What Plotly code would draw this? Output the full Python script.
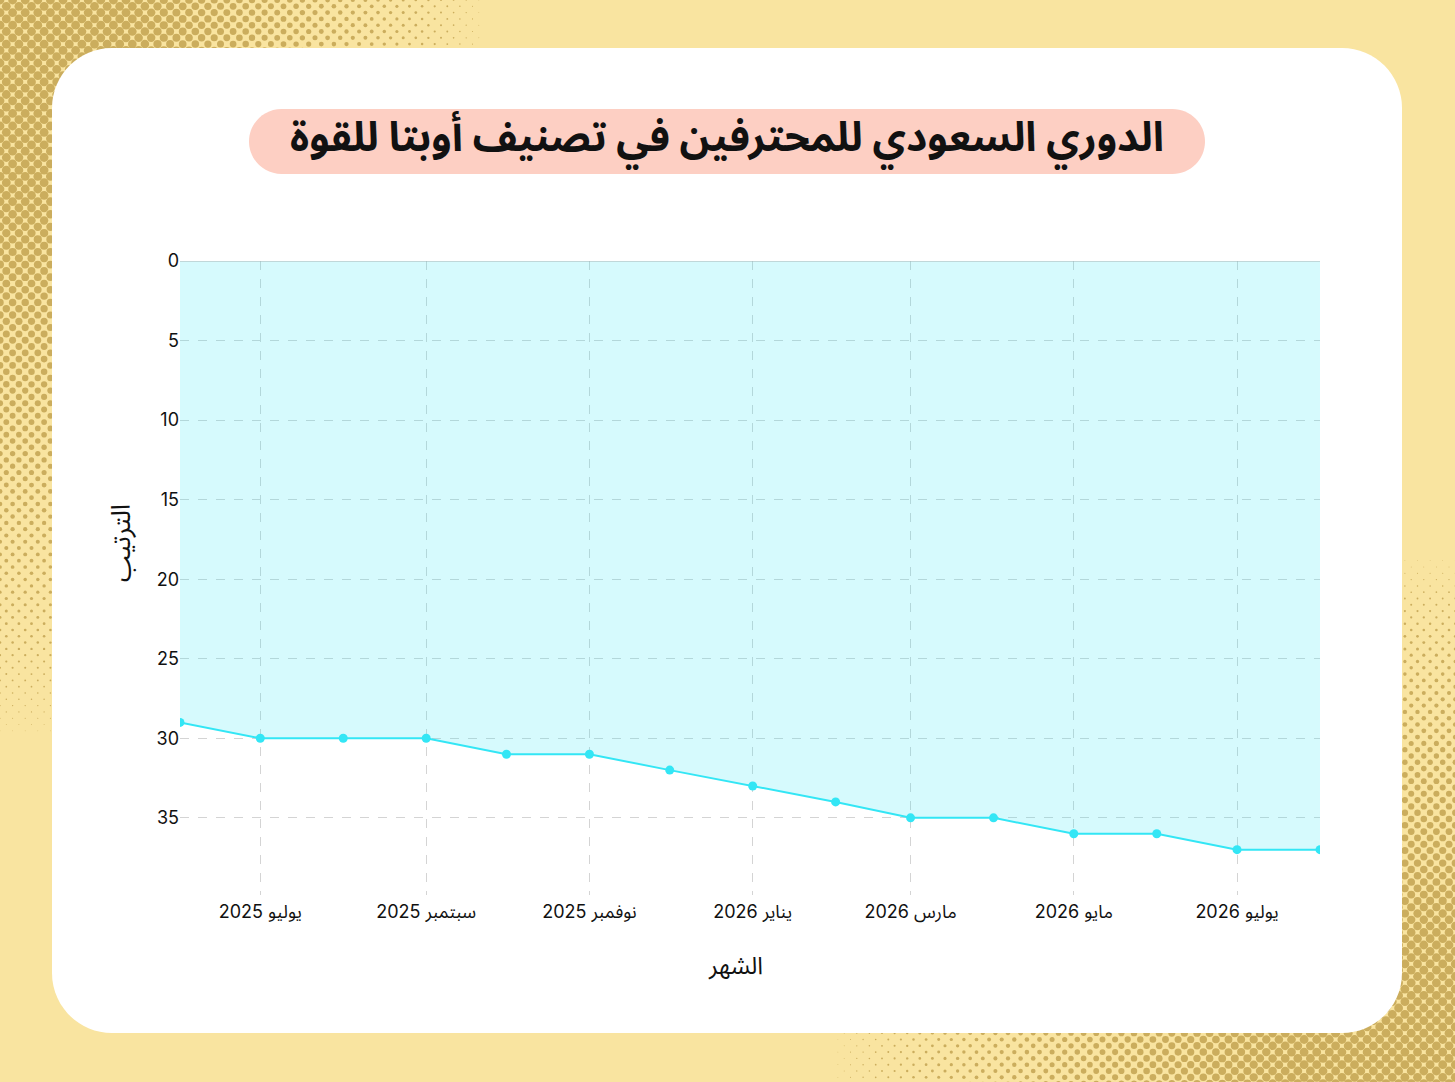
import base64
import numpy as np
import plotly.graph_objects as go

# --- data ---
months = [
    "2025-06-01", "2025-07-01", "2025-08-01", "2025-09-01", "2025-10-01",
    "2025-11-01", "2025-12-01", "2026-01-01", "2026-02-01", "2026-03-01",
    "2026-04-01", "2026-05-01", "2026-06-01", "2026-07-01", "2026-08-01",
]
ranks = [29, 30, 30, 30, 31, 31, 32, 33, 34, 35, 35, 36, 36, 37, 37]

tick_dates = ["2025-07-01", "2025-09-01", "2025-11-01", "2026-01-01",
              "2026-03-01", "2026-05-01", "2026-07-01"]
tick_labels = ["يوليو 2025", "سبتمبر 2025", "نوفمبر 2025", "يناير 2026",
               "مارس 2026", "مايو 2026", "يوليو 2026"]
rank_ticks = [0, 5, 10, 15, 20, 25, 30, 35]

title_text = "الدوري السعودي للمحترفين في تصنيف أوبتا للقوة"
x_title = "الشهر"
y_title = "الترتيب"

# --- page geometry (pixels) ---
W, H = 1455, 1082
L, R, T, B = 180, 135, 261, 187
PW, PH = W - L - R, H - T - B

FONT = "Inter, Noto Sans Arabic, Noto Sans, DejaVu Sans, sans-serif"


def px(x):
    return (x - L) / PW


def py(y):
    return (H - B - y) / PH


def rounded_rect(x0, y0, x1, y1, r):
    k = 0.5523 * r
    p = lambda x, y: f"{px(x):.5f},{py(y):.5f}"
    return (
        f"M{p(x0 + r, y0)} L{p(x1 - r, y0)} "
        f"C{p(x1 - r + k, y0)} {p(x1, y0 + r - k)} {p(x1, y0 + r)} "
        f"L{p(x1, y1 - r)} "
        f"C{p(x1, y1 - r + k)} {p(x1 - r + k, y1)} {p(x1 - r, y1)} "
        f"L{p(x0 + r, y1)} "
        f"C{p(x0 + r - k, y1)} {p(x0, y1 - r + k)} {p(x0, y1 - r)} "
        f"L{p(x0, y0 + r)} "
        f"C{p(x0, y0 + r - k)} {p(x0 + r - k, y0)} {p(x0 + r, y0)} Z"
    )


# halftone corners for the backdrop
def halftone_svg():
    parts = [f'<svg xmlns="http://www.w3.org/2000/svg" width="{W}" height="{H}" '
             f'viewBox="0 0 {W} {H}"><rect width="{W}" height="{H}" fill="#f9e4a0"/>'
             '<g fill="#cbad5d">']
    a = 6.3
    for cx, cy, rx, ry in [(0, 0, 500, 760), (W, H, 640, 540)]:
        for j in range(int(H / a) + 2):
            for i in range(int(W / a) + 2):
                if (i + j) % 2:
                    continue
                x, y = i * a, j * a
                d = np.hypot((x - cx) / rx, (y - cy) / ry)
                if d >= 1:
                    continue
                r = 5.6 * (1 - d) ** 0.8
                if r > 0.35:
                    parts.append(f'<circle cx="{x:.1f}" cy="{y:.1f}" r="{min(r, 4.4):.2f}"/>')
    parts.append("</g></svg>")
    return "data:image/svg+xml;base64," + base64.b64encode("".join(parts).encode()).decode()


fig = go.Figure()

fig.add_trace(go.Scatter(
    x=months,
    y=ranks,
    mode="lines+markers",
    fill="tozeroy",
    fillcolor="rgba(51, 230, 245, 0.2)",
    line=dict(color="#33e6f5", width=2),
    marker=dict(color="#33e6f5", size=9),
    hovertemplate="%{x|%b %Y}<br>%{y}<extra></extra>",
    showlegend=False,
))

fig.update_layout(
    width=W,
    height=H,
    margin=dict(l=L, r=R, t=T, b=B),
    paper_bgcolor="#f9e4a0",
    plot_bgcolor="white",
    font=dict(family=FONT, color="#111111"),
    images=[dict(
        source=halftone_svg(),
        xref="paper", yref="paper",
        x=px(0), y=py(0),
        sizex=W / PW, sizey=H / PH,
        xanchor="left", yanchor="top",
        sizing="stretch",
        layer="below",
    )],
    shapes=[
        dict(type="path", xref="paper", yref="paper",
             path=rounded_rect(52, 48, 1402, 1033, 60),
             fillcolor="white", line=dict(width=0), layer="below"),
        dict(type="path", xref="paper", yref="paper",
             path=rounded_rect(249, 109, 1205, 174, 32.5),
             fillcolor="#fdcfc3", line=dict(width=0), layer="below"),
        # axis line along rank 0 at the top of the plot
        dict(type="line", xref="paper", yref="y", x0=0, x1=1, y0=0, y1=0,
             line=dict(color="#a9b4b6", width=1.2), layer="above"),
    ],
    annotations=[
        dict(text=f"<b>{title_text}</b>",
             xref="paper", yref="paper", x=px(727), y=py(140),
             xanchor="center", yanchor="middle", showarrow=False,
             font=dict(size=41, color="#111111")),
        dict(text=x_title,
             xref="paper", yref="paper", x=px(735), y=py(965),
             xanchor="center", yanchor="middle", showarrow=False,
             font=dict(size=24, color="#111111")),
        dict(text=y_title, textangle=-90,
             xref="paper", yref="paper", x=px(120), y=py(543),
             xanchor="center", yanchor="middle", showarrow=False,
             font=dict(size=26, color="#111111")),
    ],
    xaxis=dict(
        range=["2025-06-01", "2026-08-01"],
        tickvals=tick_dates,
        ticktext=tick_labels,
        tickfont=dict(size=18),
        ticklabelstandoff=4,
        showgrid=True,
        gridcolor="#d4d4d4",
        griddash="dash",
        zeroline=False,
        showline=False,
    ),
    yaxis=dict(
        range=[39.85, 0],
        tickvals=rank_ticks,
        tickfont=dict(size=18),
        showgrid=True,
        gridcolor="#d4d4d4",
        griddash="dash",
        zeroline=False,
        showline=False,
    ),
)

fig.write_html(
    "out.html",
    config={"displayModeBar": False},
    post_script="document.body.style.margin='0';",
)
